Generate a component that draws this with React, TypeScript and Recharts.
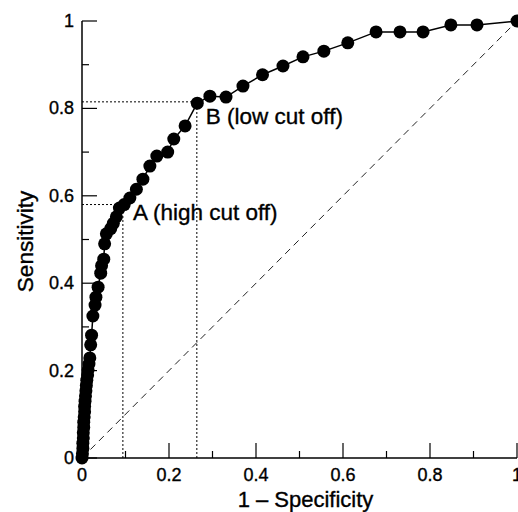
import React from 'react';
import {
  ScatterChart,
  Scatter,
  XAxis,
  YAxis,
  ReferenceLine,
  ReferenceDot,
} from 'recharts';

// ROC points, 1 - specificity vs sensitivity
const fpr = [
  0.0, 0.001, 0.002, 0.002, 0.003, 0.003, 0.004, 0.004, 0.005, 0.006, 0.006, 0.007,
  0.008, 0.009, 0.01, 0.011, 0.013, 0.014, 0.016, 0.018, 0.02, 0.022, 0.025, 0.03,
  0.032, 0.037, 0.043, 0.045, 0.05, 0.052, 0.056, 0.066, 0.072, 0.079, 0.086, 0.097,
  0.11, 0.125, 0.14, 0.156, 0.172, 0.197, 0.211, 0.237, 0.265, 0.294, 0.331, 0.37,
  0.415, 0.462, 0.508, 0.556, 0.611, 0.676, 0.731, 0.784, 0.848, 0.908, 1.0,
];
const tpr = [
  0.0, 0.01, 0.022, 0.034, 0.046, 0.058, 0.07, 0.082, 0.094, 0.106, 0.118, 0.13,
  0.142, 0.154, 0.166, 0.178, 0.19, 0.202, 0.215, 0.229, 0.259, 0.281, 0.325, 0.35,
  0.368, 0.391, 0.423, 0.44, 0.455, 0.49, 0.513, 0.525, 0.537, 0.552, 0.572, 0.58,
  0.595, 0.615, 0.638, 0.668, 0.691, 0.7, 0.73, 0.76, 0.812, 0.828, 0.826, 0.851,
  0.877, 0.897, 0.918, 0.931, 0.95, 0.975, 0.975, 0.975, 0.991, 0.991, 1.0,
];

const tickValues = [0, 0.1, 0.2, 0.3, 0.4, 0.5, 0.6, 0.7, 0.8, 0.9, 1];

const cutA = { x: 0.094, y: 0.58, label: 'A (high cut off)' };
const cutB = { x: 0.264, y: 0.815, label: 'B (low cut off)' };

const diagonal = [
  { x: 0, y: 0 },
  { x: 1, y: 1 },
];

const data = fpr.map((x, i) => ({ x, y: tpr[i] }));

const FONT = '"Liberation Sans", Arial, Helvetica, sans-serif';
// slight outline so the text looks as heavy as the printed original
const txt = { fill: '#000', stroke: '#000', strokeWidth: 0.35, fontFamily: FONT };

const isMajor = (v: number) => Math.round(v * 10) % 2 === 0;
const fmt = (v: number) => (v === 0 ? '0' : v === 1 ? '1' : v.toFixed(1));

function XTick(props: any) {
  const { x, y, payload } = props;
  const v = payload.value as number;
  const major = isMajor(v);
  return (
    <g>
      <line x1={x} y1={y} x2={x} y2={y - (major ? 15 : 7)} stroke="#000" strokeWidth={1.2} />
      {major && (
        <text x={x} y={y + 17} textAnchor="middle" dominantBaseline="central" fontSize={18} {...txt}>
          {fmt(v)}
        </text>
      )}
    </g>
  );
}

function YTick(props: any) {
  const { x, y, payload } = props;
  const v = payload.value as number;
  const major = isMajor(v);
  return (
    <g>
      <line x1={x} y1={y} x2={x + (major ? 15 : 7)} y2={y} stroke="#000" strokeWidth={1.2} />
      {major && (
        <text x={x - 8} y={y} textAnchor="end" dominantBaseline="central" fontSize={18} {...txt}>
          {fmt(v)}
        </text>
      )}
    </g>
  );
}

const Dot = (props: any) => <circle cx={props.cx} cy={props.cy} r={6.5} fill="#000" />;

function CutLabel({ viewBox, value, dx, dy }: any) {
  const cx = viewBox?.cx ?? viewBox?.x ?? 0;
  const cy = viewBox?.cy ?? viewBox?.y ?? 0;
  return (
    <text x={cx + dx} y={cy + dy} dominantBaseline="central" fontSize={22.5} {...txt}>
      {value}
    </text>
  );
}

function YTitle({ viewBox }: any) {
  const x = viewBox.x + 25;
  const y = viewBox.y + viewBox.height / 2 + 2;
  return (
    <text x={x} y={y} transform={`rotate(-90 ${x} ${y})`} textAnchor="middle" dominantBaseline="central" fontSize={22.5} {...txt}>
      Sensitivity
    </text>
  );
}

function XTitle({ viewBox }: any) {
  const x = viewBox.x + viewBox.width / 2 + 6;
  const y = viewBox.y + 41;
  return (
    <text x={x} y={y} textAnchor="middle" dominantBaseline="central" fontSize={22} {...txt}>
      1 – Specificity
    </text>
  );
}

function AxisTitle(props: any) {
  return props.kind === 'x' ? <XTitle viewBox={props.viewBox} /> : <YTitle viewBox={props.viewBox} />;
}

export default function App() {
  return (
    <div style={{ position: 'absolute', left: 0, top: 0, fontFamily: FONT, background: '#fff' }}>
      <ScatterChart width={518} height={512} margin={{ top: 21, right: 1, left: 0, bottom: 0 }}>
        <XAxis
          type="number"
          dataKey="x"
          domain={[0, 1]}
          ticks={tickValues}
          interval={0}
          height={54}
          tickSize={0}
          tickMargin={0}
          tickLine={false}
          tick={<XTick />}
          axisLine={{ stroke: '#000', strokeWidth: 1.5 }}
          label={<AxisTitle kind="x" />}
        />
        <YAxis
          type="number"
          dataKey="y"
          domain={[0, 1]}
          ticks={tickValues}
          interval={0}
          width={82}
          tickSize={0}
          tickMargin={0}
          tickLine={false}
          tick={<YTick />}
          axisLine={{ stroke: '#000', strokeWidth: 1.5 }}
          label={<AxisTitle kind="y" />}
        />
        <ReferenceLine segment={diagonal} stroke="#222" strokeWidth={1} strokeDasharray="7 5" />
        <ReferenceLine segment={[{ x: 0, y: cutA.y }, { x: cutA.x, y: cutA.y }]} stroke="#000" strokeWidth={1} strokeDasharray="2 2" />
        <ReferenceLine segment={[{ x: cutA.x, y: 0 }, { x: cutA.x, y: cutA.y }]} stroke="#000" strokeWidth={1} strokeDasharray="2 2" />
        <ReferenceLine segment={[{ x: 0, y: cutB.y }, { x: cutB.x, y: cutB.y }]} stroke="#000" strokeWidth={1} strokeDasharray="2 2" />
        <ReferenceLine segment={[{ x: cutB.x, y: 0 }, { x: cutB.x, y: cutB.y }]} stroke="#000" strokeWidth={1} strokeDasharray="2 2" />
        <Scatter
          data={data}
          line={{ stroke: '#000', strokeWidth: 1.5 }}
          shape={<Dot />}
          isAnimationActive={false}
        />
        <ReferenceDot
          x={cutA.x}
          y={cutA.y}
          r={0}
          fill="none"
          stroke="none"
          label={<CutLabel value={cutA.label} dx={10} dy={8} />}
        />
        <ReferenceDot
          x={cutB.x}
          y={cutB.y}
          r={0}
          fill="none"
          stroke="none"
          label={<CutLabel value={cutB.label} dx={9} dy={15} />}
        />
      </ScatterChart>
    </div>
  );
}
